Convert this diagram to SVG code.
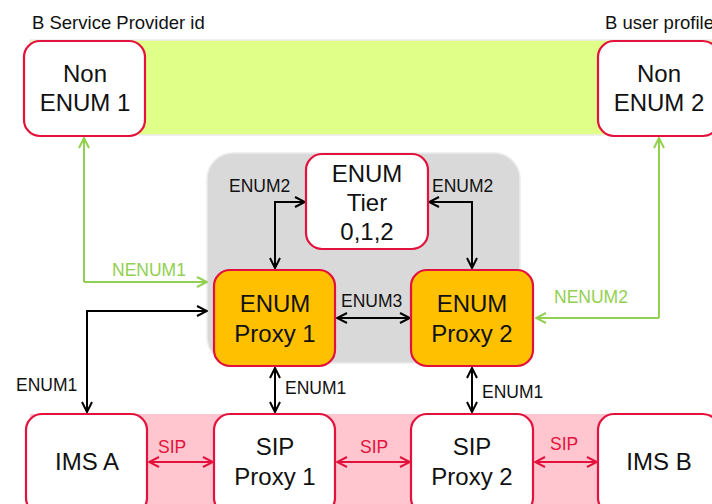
<svg xmlns="http://www.w3.org/2000/svg" width="712" height="504" viewBox="0 0 712 504">
<defs>
<style>
.node{stroke:#E3123D;stroke-width:2.2;fill:#fff}
.proxy{stroke:#E3123D;stroke-width:2.2;fill:#FFC000}
.nt{font-family:"Liberation Sans",Arial,sans-serif;font-size:24px;fill:#111;text-anchor:middle}
.lbl{font-family:"Liberation Sans",Arial,sans-serif;font-size:17.5px;fill:#111}
.hdr{font-family:"Liberation Sans",Arial,sans-serif;font-size:18.5px;fill:#111}
.blk{stroke:#000;stroke-width:2;fill:none}
.grn{stroke:#92D050;stroke-width:2;fill:none}
.red{stroke:#E3123D;stroke-width:2;fill:none}
</style>
<marker id="ab" viewBox="0 0 12 12" refX="11" refY="6" markerWidth="12" markerHeight="12" markerUnits="userSpaceOnUse" orient="auto-start-reverse"><path d="M1,1 L11,6 L1,11" fill="none" stroke="#000" stroke-width="2"/></marker>
<marker id="ag" viewBox="0 0 12 12" refX="11" refY="6" markerWidth="12" markerHeight="12" markerUnits="userSpaceOnUse" orient="auto-start-reverse"><path d="M1,1 L11,6 L1,11" fill="none" stroke="#92D050" stroke-width="2"/></marker>
<marker id="ar" viewBox="0 0 12 12" refX="11" refY="6" markerWidth="12" markerHeight="12" markerUnits="userSpaceOnUse" orient="auto-start-reverse"><path d="M1,1 L11,6 L1,11" fill="none" stroke="#E3123D" stroke-width="2"/></marker>
</defs>
<rect width="712" height="504" fill="#fff"/>
<g id="bands">
<rect x="30" y="40" width="690" height="95" fill="#E0FF88" stroke="#ececec" stroke-width="1.5"/>
<rect x="30" y="414" width="690" height="100" fill="#FFC6CF"/>
<rect x="207" y="153" width="313" height="210" rx="26" fill="#D9D9D9" stroke="#ececec" stroke-width="1.5"/>
</g>
<text class="hdr" x="32" y="29">B Service Provider id</text>
<text class="hdr" x="605" y="29">B user profile</text>
<g id="connectors">
<polyline class="grn" points="84,282 84,138" marker-end="url(#ag)"/>
<polyline class="grn" points="84,282 207,282" marker-end="url(#ag)"/>
<polyline class="grn" points="659,318 659,138" marker-end="url(#ag)"/>
<polyline class="grn" points="659,318 536,318" marker-end="url(#ag)"/>
<polyline class="blk" points="275,268 275,202 305,202" marker-start="url(#ab)" marker-end="url(#ab)"/>
<polyline class="blk" points="429,202 472,202 472,268" marker-start="url(#ab)" marker-end="url(#ab)"/>
<line class="blk" x1="337" y1="318" x2="410" y2="318" marker-start="url(#ab)" marker-end="url(#ab)"/>
<polyline class="blk" points="207,311 87,311 87,412" marker-start="url(#ab)" marker-end="url(#ab)"/>
<line class="blk" x1="275" y1="368" x2="275" y2="412" marker-start="url(#ab)" marker-end="url(#ab)"/>
<line class="blk" x1="472" y1="368" x2="472" y2="412" marker-start="url(#ab)" marker-end="url(#ab)"/>
<line class="red" x1="149" y1="462" x2="213" y2="462" marker-start="url(#ar)" marker-end="url(#ar)"/>
<line class="red" x1="337" y1="462" x2="410" y2="462" marker-start="url(#ar)" marker-end="url(#ar)"/>
<line class="red" x1="535" y1="462" x2="597" y2="462" marker-start="url(#ar)" marker-end="url(#ar)"/>
<text class="lbl" x="112" y="276" style="fill:#92D050">NENUM1</text>
<text class="lbl" x="554" y="303" style="fill:#92D050">NENUM2</text>
<text class="lbl" x="229" y="192">ENUM2</text>
<text class="lbl" x="432" y="192">ENUM2</text>
<text class="lbl" x="341" y="307">ENUM3</text>
<text class="lbl" x="16" y="391">ENUM1</text>
<text class="lbl" x="285" y="394">ENUM1</text>
<text class="lbl" x="482" y="398">ENUM1</text>
<text class="lbl" x="158" y="453" style="fill:#E3123D">SIP</text>
<text class="lbl" x="360" y="453" style="fill:#E3123D">SIP</text>
<text class="lbl" x="550" y="450" style="fill:#E3123D">SIP</text>
</g>
<g id="non-enum-1"><rect class="node" x="24" y="41" width="121" height="95" rx="16"/><text class="nt" x="85" y="82">Non</text><text class="nt" x="85" y="111">ENUM 1</text></g>
<g id="non-enum-2"><rect class="node" x="598" y="41" width="121" height="95" rx="16"/><text class="nt" x="659" y="82">Non</text><text class="nt" x="659" y="111">ENUM 2</text></g>
<g id="enum-tier"><rect class="node" x="306" y="154" width="122" height="95" rx="16"/><text class="nt" x="367" y="182">ENUM</text><text class="nt" x="367" y="211">Tier</text><text class="nt" x="367" y="240">0,1,2</text></g>
<g id="enum-proxy-1"><rect class="proxy" x="214" y="270" width="121" height="96" rx="16"/><text class="nt" x="275" y="312">ENUM</text><text class="nt" x="275" y="342">Proxy 1</text></g>
<g id="enum-proxy-2"><rect class="proxy" x="411" y="270" width="122" height="96" rx="16"/><text class="nt" x="472" y="312">ENUM</text><text class="nt" x="472" y="342">Proxy 2</text></g>
<g id="ims-a"><rect class="node" x="26" y="414" width="121" height="100" rx="16"/><text class="nt" x="87" y="470">IMS A</text></g>
<g id="sip-proxy-1"><rect class="node" x="214" y="414" width="121" height="100" rx="16"/><text class="nt" x="275" y="455">SIP</text><text class="nt" x="275" y="485">Proxy 1</text></g>
<g id="sip-proxy-2"><rect class="node" x="411" y="414" width="122" height="100" rx="16"/><text class="nt" x="472" y="455">SIP</text><text class="nt" x="472" y="485">Proxy 2</text></g>
<g id="ims-b"><rect class="node" x="598" y="414" width="121" height="100" rx="16"/><text class="nt" x="659" y="470">IMS B</text></g>
</svg>
